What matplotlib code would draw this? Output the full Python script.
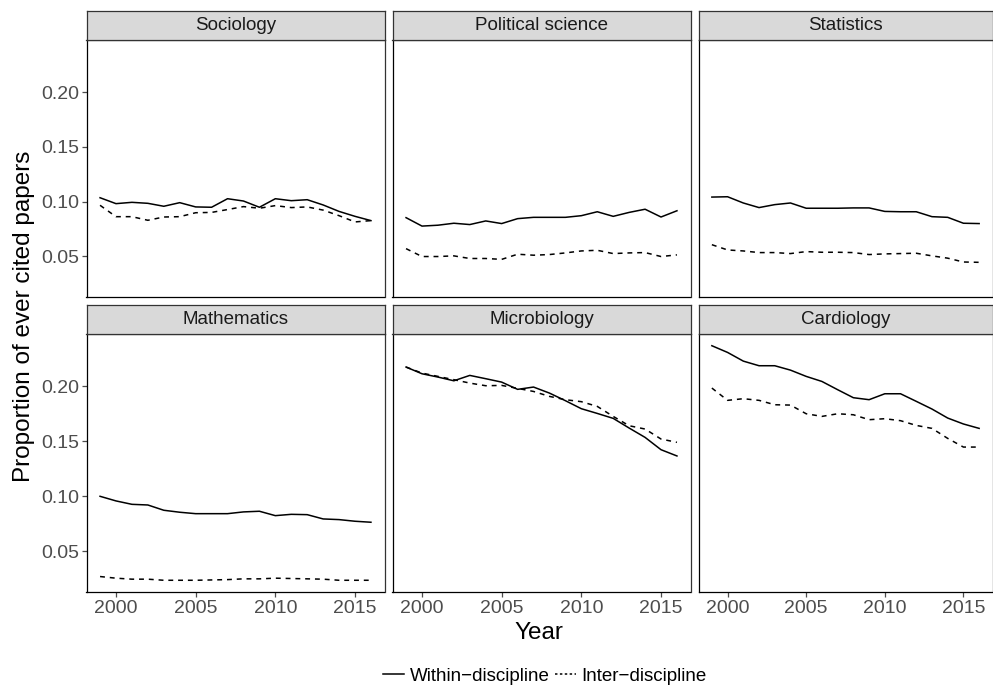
import numpy as np
import matplotlib.pyplot as plt
from matplotlib.lines import Line2D

plt.rcParams['font.family'] = ['Liberation Sans', 'DejaVu Sans']

years = np.arange(1999, 2017)

fields = ["Sociology", "Political science", "Statistics",
          "Mathematics", "Microbiology", "Cardiology"]

within = {
    "Sociology": [0.1036, 0.0982, 0.0994, 0.0985, 0.0958, 0.0991, 0.0952, 0.0949, 0.1027,
                  0.1006, 0.0949, 0.1027, 0.1009, 0.1018, 0.0970, 0.0911, 0.0866, 0.0827],
    "Political science": [0.0854, 0.0777, 0.0785, 0.0803, 0.0791, 0.0824, 0.0800, 0.0845, 0.0857,
                          0.0857, 0.0857, 0.0872, 0.0908, 0.0866, 0.0902, 0.0931, 0.0860, 0.0917],
    "Statistics": [0.1042, 0.1045, 0.0988, 0.0946, 0.0973, 0.0988, 0.0940, 0.0940, 0.0940,
                   0.0943, 0.0943, 0.0911, 0.0908, 0.0908, 0.0863, 0.0857, 0.0803, 0.0800],
    "Mathematics": [0.1000, 0.0958, 0.0927, 0.0921, 0.0873, 0.0855, 0.0842, 0.0842, 0.0842,
                    0.0858, 0.0864, 0.0824, 0.0836, 0.0833, 0.0794, 0.0788, 0.0773, 0.0764],
    "Microbiology": [0.2176, 0.2115, 0.2085, 0.2051, 0.2100, 0.2070, 0.2039, 0.1973, 0.1994,
                     0.1939, 0.1870, 0.1797, 0.1754, 0.1709, 0.1621, 0.1536, 0.1424, 0.1367],
    "Cardiology": [0.2370, 0.2309, 0.2230, 0.2188, 0.2188, 0.2148, 0.2091, 0.2045, 0.1970,
                   0.1897, 0.1879, 0.1933, 0.1933, 0.1864, 0.1794, 0.1712, 0.1658, 0.1618],
}

inter = {
    "Sociology": [0.0967, 0.0863, 0.0863, 0.0830, 0.0860, 0.0863, 0.0899, 0.0902, 0.0928,
                  0.0955, 0.0940, 0.0964, 0.0946, 0.0952, 0.0923, 0.0872, 0.0815, 0.0827],
    "Political science": [0.0571, 0.0499, 0.0499, 0.0505, 0.0481, 0.0481, 0.0473, 0.0520, 0.0511,
                          0.0517, 0.0532, 0.0550, 0.0556, 0.0526, 0.0532, 0.0535, 0.0499, 0.0514],
    "Statistics": [0.0607, 0.0559, 0.0550, 0.0535, 0.0535, 0.0526, 0.0544, 0.0538, 0.0538,
                   0.0535, 0.0517, 0.0523, 0.0526, 0.0529, 0.0505, 0.0484, 0.0449, 0.0446],
    "Mathematics": [0.0270, 0.0255, 0.0246, 0.0246, 0.0236, 0.0236, 0.0236, 0.0239, 0.0242,
                    0.0249, 0.0249, 0.0255, 0.0252, 0.0249, 0.0246, 0.0236, 0.0236, 0.0236],
    "Microbiology": [0.2176, 0.2121, 0.2091, 0.2061, 0.2030, 0.2006, 0.2009, 0.1982, 0.1954,
                     0.1909, 0.1879, 0.1861, 0.1818, 0.1727, 0.1642, 0.1612, 0.1521, 0.1491],
    "Cardiology": [0.1985, 0.1873, 0.1888, 0.1873, 0.1833, 0.1830, 0.1751, 0.1727, 0.1751,
                   0.1742, 0.1697, 0.1706, 0.1688, 0.1645, 0.1618, 0.1527, 0.1448, 0.1448],
}

x_ticks = [2000, 2005, 2010, 2015]
y_ticks = [0.05, 0.10, 0.15, 0.20]

W, H = 993, 687
fig = plt.figure(figsize=(W / 100, H / 100), dpi=100)

# pixel layout of the facets (left, right) and (strip top, panel top, panel bottom)
cols = [(86.5, 384.5), (392.5, 690.5), (698.5, 992.5)]
rows = [(11, 40, 297), (305, 334, 592)]

allv = np.concatenate([np.r_[within[f], inter[f]] for f in fields])
lo, hi = allv.min(), allv.max()
pad = 0.05 * (hi - lo)
ylim = (lo - pad, hi + pad)
xlim = (years[0] - 0.05 * (years[-1] - years[0]), years[-1] + 0.05 * (years[-1] - years[0]))

axis_grey = '#4d4d4d'
dash = (0, (3.2, 3.2))

for i, f in enumerate(fields):
    r, c = divmod(i, 3)
    x0, x1 = cols[c]
    st, pt, pb = rows[r]
    ax = fig.add_axes([x0 / W, 1 - pb / H, (x1 - x0) / W, (pb - pt) / H])
    ax.plot(years, within[f], color='black', lw=1.1, solid_joinstyle='round')
    ax.plot(years, inter[f], color='black', lw=1.1, linestyle=dash)
    ax.set_xlim(xlim)
    ax.set_ylim(ylim)
    for s in ax.spines.values():
        s.set_color('#333333')
        s.set_linewidth(0.9)
    ax.spines['left'].set_color('black')
    ax.spines['bottom'].set_color('black')
    ax.set_xticks(x_ticks)
    ax.set_yticks(y_ticks)
    ax.tick_params(colors=axis_grey, labelcolor=axis_grey, labelsize=14,
                   length=3.5, width=0.9, pad=2)
    if c == 0:
        ax.set_yticklabels(["%.2f" % v for v in y_ticks])
    else:
        ax.tick_params(axis='y', left=False, labelleft=False)
    if r == 0:
        ax.tick_params(axis='x', bottom=False, labelbottom=False)

    sax = fig.add_axes([x0 / W, 1 - pt / H, (x1 - x0) / W, (pt - st) / H])
    sax.set_facecolor('#d9d9d9')
    sax.set_xticks([])
    sax.set_yticks([])
    for s in sax.spines.values():
        s.set_color('#333333')
        s.set_linewidth(0.9)
    sax.text(0.5, 0.5, f, ha='center', va='center', fontsize=13.5, color='#1a1a1a',
             transform=sax.transAxes)

fig.text(24 / W, 1 - 316 / H, "Proportion of ever cited papers", rotation=90,
         ha='center', va='center', fontsize=17.5)
fig.text(539 / W, 1 - 633 / H, "Year", ha='center', va='center', fontsize=17.5)

handles = [Line2D([], [], color='black', lw=1.1),
           Line2D([], [], color='black', lw=1.1, linestyle=(0, (1.6, 1.6)))]
fig.legend(handles, ["Within\u2212discipline", "Inter\u2212discipline"],
           loc='center', bbox_to_anchor=(545 / W, 1 - 676 / H), ncol=2, frameon=False,
           fontsize=13.5, handlelength=1.1, handletextpad=0.3, columnspacing=0.3)

fig.savefig('out.png', dpi=100)
